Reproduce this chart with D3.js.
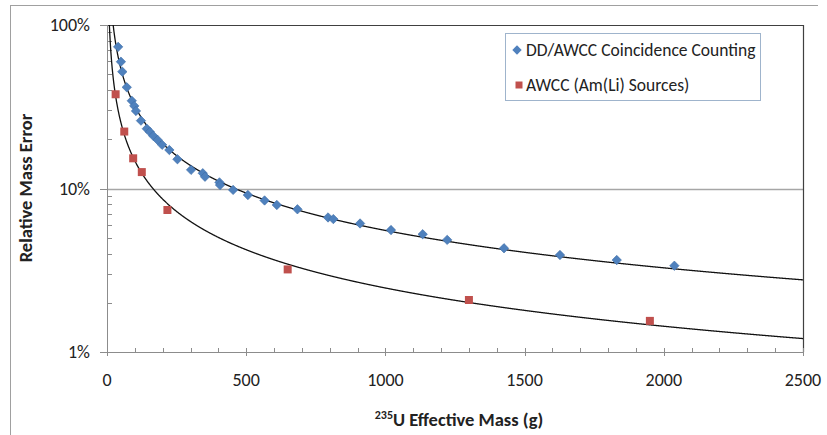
<!DOCTYPE html>
<html>
<head>
<meta charset="utf-8">
<script src="https://cdnjs.cloudflare.com/ajax/libs/d3/7.8.5/d3.min.js"></script>
<style>
  body { margin: 0; background: #fff; }
  text { font-family: Carlito, Lato, "Open Sans", sans-serif; fill: #222; }
</style>
</head>
<body>
<svg id="chart" width="827" height="435"></svg>
<script>
// DD/AWCC coincidence counting (235U effective mass g, relative error %)
const ddMass = [40, 50, 55, 71, 89, 98, 104, 122, 143, 154, 166, 182, 198, 224, 253, 302,
                344, 352, 404, 406, 453, 506, 566, 610, 684, 794, 813, 909, 1020, 1134,
                1222, 1426, 1627, 1831, 2038];
const ddError = [73.5, 59.6, 51.8, 41.6, 34.4, 32.0, 29.8, 26.0, 23.2, 22.2, 21.0, 19.8, 18.5,
                 17.2, 15.1, 13.0, 12.4, 11.8, 10.9, 10.5, 9.8, 9.12, 8.45, 7.93, 7.46, 6.65,
                 6.5, 6.11, 5.57, 5.25, 4.85, 4.31, 3.92, 3.65, 3.37];

// AWCC with Am(Li) sources
const amliMass = [31, 62, 94, 125, 217, 649, 1300, 1950];
const amliError = [37.7, 22.3, 15.3, 12.6, 7.39, 3.2, 2.08, 1.55];

const xTicks = [0, 500, 1000, 1500, 2000, 2500];
const yTicks = [1, 10, 100];
const yTickLabels = ["1%", "10%", "100%"];

const seriesNames = ["DD/AWCC Coincidence Counting", "AWCC (Am(Li) Sources)"];
const seriesColors = ["#4F81BD", "#C0504D"];

const svg = d3.select("#chart");
const plot = { left: 107, right: 803, top: 25, bottom: 352 };

const x = d3.scaleLinear().domain([0, 2500]).range([plot.left, plot.right]);
const y = d3.scaleLog().domain([1, 100]).range([plot.bottom, plot.top]);

// chart area frame (only top and left edges show in the picture)
svg.append("line").attr("x1", 10).attr("x2", 818).attr("y1", 5.5).attr("y2", 5.5)
  .attr("stroke", "#a0a0a0");
svg.append("line").attr("x1", 10.5).attr("x2", 10.5).attr("y1", 5).attr("y2", 435)
  .attr("stroke", "#a0a0a0");

svg.append("clipPath").attr("id", "clip").append("rect")
  .attr("x", plot.left).attr("y", plot.top)
  .attr("width", plot.right - plot.left).attr("height", plot.bottom - plot.top);

// gridline at 10%
svg.append("line")
  .attr("x1", plot.left).attr("x2", plot.right)
  .attr("y1", Math.round(y(10)) + 0.5).attr("y2", Math.round(y(10)) + 0.5)
  .attr("stroke", "#a6a6a6").attr("stroke-width", 1.3);

// plot top + right border
svg.append("path")
  .attr("d", `M${plot.left},${plot.top + 0.5}H${plot.right + 0.5}V${plot.bottom}`)
  .attr("fill", "none").attr("stroke", "#404040").attr("stroke-width", 1.2);

// y axis: major ticks outside, minor inside
const yAxis = svg.append("g").attr("stroke", "#8c8c8c");
yAxis.append("line").attr("x1", plot.left + 0.5).attr("x2", plot.left + 0.5)
  .attr("y1", plot.top).attr("y2", plot.bottom);
yTicks.forEach(v => {
  yAxis.append("line").attr("x1", plot.left - 7).attr("x2", plot.left)
    .attr("y1", Math.round(y(v)) + 0.5).attr("y2", Math.round(y(v)) + 0.5);
});
d3.range(1, 3).forEach(p => {
  d3.range(2, 10).forEach(m => {
    let v = Math.pow(10, p - 1) * m;
    yAxis.append("line").attr("x1", plot.left).attr("x2", plot.left + 5)
      .attr("y1", Math.round(y(v)) + 0.5).attr("y2", Math.round(y(v)) + 0.5);
  });
});

// x axis: major ticks cross, minor inside
const xAxis = svg.append("g").attr("stroke", "#8c8c8c");
xAxis.append("line").attr("x1", plot.left).attr("x2", plot.right)
  .attr("y1", plot.bottom + 0.5).attr("y2", plot.bottom + 0.5);
d3.range(0, 2501, 100).forEach(v => {
  let major = v % 500 === 0;
  xAxis.append("line")
    .attr("x1", Math.round(x(v)) + 0.5).attr("x2", Math.round(x(v)) + 0.5)
    .attr("y1", plot.bottom - 4).attr("y2", plot.bottom + (major ? 4 : 0));
});

// tick labels
svg.append("g").selectAll("text").data(yTicks).join("text")
  .attr("x", 90).attr("y", d => y(d) + 6)
  .attr("text-anchor", "end").attr("font-size", 18).attr("fill", "#404040")
  .text((d, i) => yTickLabels[i]);

svg.append("g").selectAll("text").data(xTicks).join("text")
  .attr("x", d => x(d)).attr("y", 386)
  .attr("text-anchor", "middle").attr("font-size", 18).attr("fill", "#404040")
  .text(d => d);

// axis titles
svg.append("text")
  .attr("transform", "translate(32,188) rotate(-90)")
  .attr("text-anchor", "middle").attr("font-size", 18.5).attr("font-weight", "bold")
  .text("Relative Mass Error");

const xt = svg.append("text")
  .attr("x", 459).attr("y", 426)
  .attr("text-anchor", "middle").attr("font-size", 18.5).attr("font-weight", "bold");
xt.append("tspan").attr("font-size", 12).attr("dy", -7).text("235");
xt.append("tspan").attr("dy", 7).text("U Effective Mass (g)");

// power trendlines, least squares on ln-ln like Excel
function powerFit(xs, ys) {
  let lx = xs.map(Math.log), ly = ys.map(Math.log);
  let mx = d3.mean(lx), my = d3.mean(ly);
  let sxy = d3.sum(lx, (v, i) => (v - mx) * (ly[i] - my));
  let sxx = d3.sum(lx, v => (v - mx) * (v - mx));
  let b = sxy / sxx;
  let a = Math.exp(my - b * mx);
  return m => a * Math.pow(m, b);
}

const curveX = d3.range(1, 2501, 1);
const line = d3.line().x(d => x(d[0])).y(d => y(d[1]));

[[ddMass, ddError], [amliMass, amliError]].forEach(([xs, ys]) => {
  let f = powerFit(xs, ys);
  let pts = curveX.map(m => [m, Math.min(f(m), 200)]);
  svg.append("path")
    .attr("clip-path", "url(#clip)")
    .attr("d", line(pts))
    .attr("fill", "none").attr("stroke", "#111").attr("stroke-width", 1.3);
});

// markers
const diamond = d3.symbol().type(d3.symbolSquare).size(44);
const square = d3.symbol().type(d3.symbolSquare).size(64);

svg.append("g").selectAll("path").data(ddMass).join("path")
  .attr("d", diamond)
  .attr("transform", (d, i) => `translate(${x(d)},${y(ddError[i])}) rotate(45)`)
  .attr("fill", seriesColors[0]).attr("stroke", "#3f6fa8").attr("stroke-width", 0.6);

svg.append("g").selectAll("path").data(amliMass).join("path")
  .attr("d", square)
  .attr("transform", (d, i) => `translate(${x(d)},${y(amliError[i])})`)
  .attr("fill", seriesColors[1]);

// legend
const legend = svg.append("g").attr("transform", "translate(505,33)");
legend.append("rect").attr("x", 0.5).attr("y", 0.5).attr("width", 255).attr("height", 67)
  .attr("fill", "#fff").attr("stroke", "#9fb4cc");
legend.append("path").attr("d", diamond)
  .attr("transform", "translate(12,17) rotate(45)").attr("fill", seriesColors[0]);
legend.append("path").attr("d", d3.symbol().type(d3.symbolSquare).size(49))
  .attr("transform", "translate(14,52)").attr("fill", seriesColors[1]);
legend.selectAll("text.lbl").data(seriesNames).join("text")
  .attr("class", "lbl")
  .attr("x", 21).attr("y", (d, i) => 23 + i * 35)
  .attr("font-size", 17.5).attr("fill", "#222")
  .text(d => d);
</script>
</body>
</html>
